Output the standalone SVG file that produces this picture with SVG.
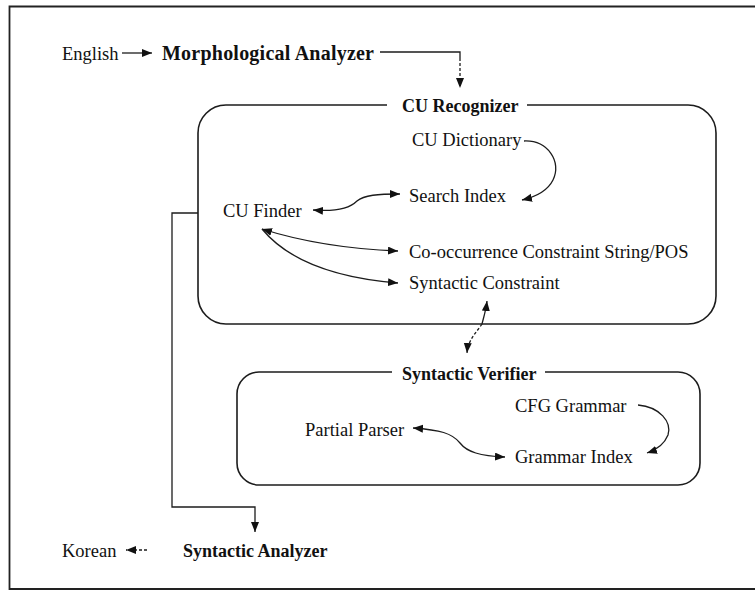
<svg xmlns="http://www.w3.org/2000/svg" width="755" height="591" viewBox="0 0 755 591">
  <style>
    .t { font-family: "Liberation Serif", "Times New Roman", serif; font-size: 18.5px; fill: #111; }
    .b { font-weight: bold; font-size: 18px; }
    .ln { fill: none; stroke: #1c1c1c; stroke-width: 1.3; }
    .dash { stroke-dasharray: 3 2; }
    .box { fill: none; stroke: #1c1c1c; stroke-width: 1.6; }
    .frame { fill: none; stroke: #222; stroke-width: 1.8; }
  </style>
  <defs>
    <marker id="ah" markerUnits="userSpaceOnUse" markerWidth="12" markerHeight="10" refX="10" refY="4" orient="auto-start-reverse">
      <path d="M0,0 L10,4 L0,8 Z" fill="#111"/>
    </marker>
  </defs>

  <rect width="755" height="591" fill="#fff"/>
  <!-- outer frame, right side runs off the page -->
  <path class="frame" d="M 760 6.5 H 9.5 V 589 H 760"/>

  <g id="english"><text class="t" x="62" y="60">English</text></g>
  <g id="morphological-analyzer"><text class="t b" x="162" y="60" style="font-size:20px" textLength="212">Morphological Analyzer</text></g>

  <g id="cu-recognizer">
    <path class="box" d="M 387 105 H 226 A 28 28 0 0 0 198 133 V 296 A 28 28 0 0 0 226 324 H 688 A 28 28 0 0 0 716 296 V 133 A 28 28 0 0 0 688 105 H 527"/>
    <text class="t b" x="402" y="112">CU Recognizer</text>
  </g>
  <g id="cu-dictionary"><text class="t" x="412" y="146">CU Dictionary</text></g>
  <g id="search-index"><text class="t" x="409" y="202">Search Index</text></g>
  <g id="cu-finder"><text class="t" x="223" y="217">CU Finder</text></g>
  <g id="cooccurrence-constraint"><text class="t" x="409" y="258">Co-occurrence Constraint String/POS</text></g>
  <g id="syntactic-constraint"><text class="t" x="409" y="289">Syntactic Constraint</text></g>

  <g id="syntactic-verifier">
    <path class="box" d="M 392 372 H 259 A 22 22 0 0 0 237 394 V 463 A 22 22 0 0 0 259 485 H 678 A 22 22 0 0 0 700 463 V 394 A 22 22 0 0 0 678 372 H 545"/>
    <text class="t b" x="402" y="380">Syntactic Verifier</text>
  </g>
  <g id="cfg-grammar"><text class="t" x="515" y="412">CFG Grammar</text></g>
  <g id="partial-parser"><text class="t" x="305" y="436">Partial Parser</text></g>
  <g id="grammar-index"><text class="t" x="515" y="463">Grammar Index</text></g>

  <g id="syntactic-analyzer"><text class="t b" x="183" y="557">Syntactic Analyzer</text></g>
  <g id="korean"><text class="t" x="62" y="557">Korean</text></g>

  <g id="connectors">
    <path class="ln" d="M 122 53 H 152" marker-end="url(#ah)"/>
    <path class="ln" d="M 380 52 H 460 V 58"/>
    <path class="ln dash" d="M 460 58 V 88" marker-end="url(#ah)"/>
    <path class="ln" d="M 524 141 C 548 140, 562 162, 553 180 C 547 192, 535 197, 522 200" marker-end="url(#ah)"/>
    <path class="ln" d="M 313 210 C 338 212, 350 208, 357 201 C 364 195, 378 194, 400 194" marker-start="url(#ah)" marker-end="url(#ah)"/>
    <path class="ln" d="M 262 229 Q 322 248 398 251" marker-start="url(#ah)" marker-end="url(#ah)"/>
    <path class="ln" d="M 262 229 Q 300 275 398 283" marker-end="url(#ah)"/>
    <path class="ln" d="M 482 324 C 484 316, 486 310, 487 301" marker-end="url(#ah)"/>
    <path class="ln dash" d="M 482 324 C 476 333, 468 340, 467 353" marker-end="url(#ah)"/>
    <path class="ln" d="M 198 213 H 172 V 507 H 255 V 532" marker-end="url(#ah)"/>
    <path class="ln dash" d="M 147 550 H 126" marker-end="url(#ah)"/>
    <path class="ln" d="M 638 405 C 660 407, 672 422, 668 435 C 664 445, 656 450, 647 453" marker-end="url(#ah)"/>
    <path class="ln" d="M 413 428 C 440 430, 452 433, 460 443 C 467 452, 480 456, 505 457" marker-start="url(#ah)" marker-end="url(#ah)"/>
  </g>
</svg>
